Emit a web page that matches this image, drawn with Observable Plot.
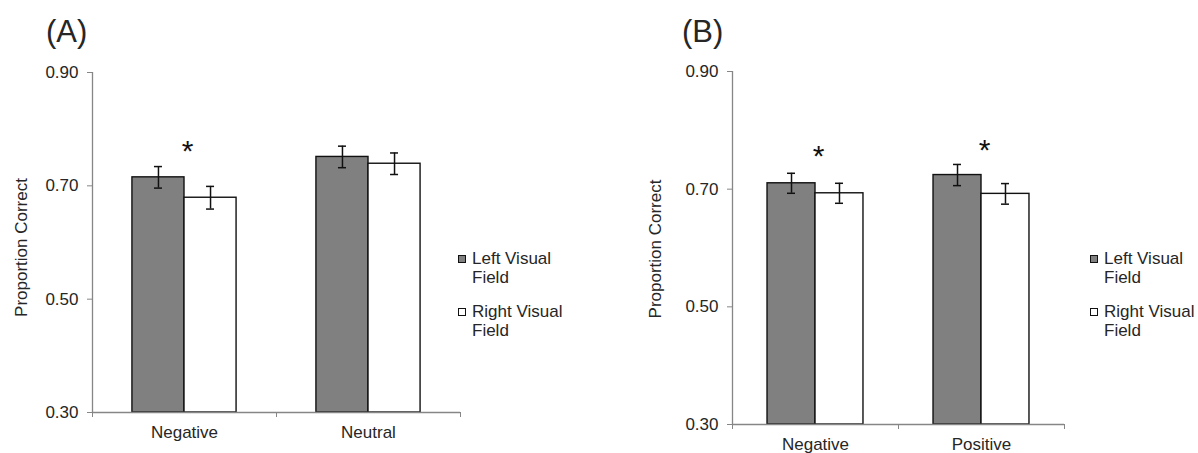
<!DOCTYPE html>
<html>
<head>
<meta charset="utf-8">
<script src="https://cdn.jsdelivr.net/npm/d3@7"></script>
<script src="https://cdn.jsdelivr.net/npm/@observablehq/plot@0.6"></script>
<style>
  html, body { margin: 0; padding: 0; background: #fff; }
  #root { position: relative; width: 1198px; height: 453px; font-family: "Liberation Sans", Arial, sans-serif; color: #262626; overflow: hidden; }
  .panel { position: absolute; top: 0; }
  .title { position: absolute; font-size: 31px; line-height: 31px; }
  .legend { position: absolute; font-size: 17px; line-height: 19px; }
  .item { position: relative; padding-left: 14px; }
  .sw { position: absolute; left: 0; top: 6px; width: 6px; height: 6px; border: 1px solid #111; }
</style>
</head>
<body>
<div id="root"></div>
<script>
// ---- data ----
const seriesNames = ["Left Visual Field", "Right Visual Field"];
const yTicks = [0.30, 0.50, 0.70, 0.90];

const catsA = ["Negative", "Neutral"];
const leftA = [0.715, 0.751];
const rightA = [0.679, 0.739];
const leftErrA = [0.019, 0.019];
const rightErrA = [0.020, 0.019];
const starsA = [0.770, null];

const catsB = ["Negative", "Positive"];
const leftB = [0.710, 0.724];
const rightB = [0.693, 0.692];
const leftErrB = [0.017, 0.018];
const rightErrB = [0.017, 0.0175];
const starsB = [0.765, 0.775];

// ---- styles ----
const gray = "#868686";
const textColor = "#262626";
const fills = ["#808080", "#ffffff"];

function makePanel(o) {
  const {cats, left, right, leftErr, rightErr, stars, width, ml, mr, mt, mb, barFrac, yLabelDx, yLabelDy} = o;
  const n = cats.length;
  const unitPx = (width - ml - mr) / n;
  const cap = 4 / unitPx;
  const rows = cats.flatMap((c, i) => [
    {cat: c, i, s: 0, v: left[i], e: leftErr[i]},
    {cat: c, i, s: 1, v: right[i], e: rightErr[i]}
  ]);
  const x1 = d => d.i + 0.5 - barFrac + d.s * barFrac;
  const xc = d => d.i + 0.5 + (d.s - 0.5) * barFrac;
  const starRows = cats.map((c, i) => ({i, y: stars[i]})).filter(d => d.y != null);
  return Plot.plot({
    width, height: 453,
    marginLeft: ml, marginRight: mr, marginTop: mt, marginBottom: mb,
    style: {fontFamily: '"Liberation Sans", Arial, sans-serif', fontSize: "17px", color: textColor, background: "transparent", overflow: "visible"},
    x: {domain: [0, n]},
    y: {domain: [yTicks[0], yTicks[yTicks.length - 1]]},
    marks: [
      Plot.rectY(rows, {x1, x2: d => x1(d) + barFrac, y1: () => yTicks[0], y2: "v", fill: d => fills[d.s], stroke: "#111", strokeWidth: 1.4}),
      Plot.ruleX(rows, {x: xc, y1: d => d.v - d.e, y2: d => d.v + d.e, stroke: "#111", strokeWidth: 1.5}),
      Plot.ruleY(rows, {x1: d => xc(d) - cap, x2: d => xc(d) + cap, y: d => d.v + d.e, stroke: "#111", strokeWidth: 1.5}),
      Plot.ruleY(rows, {x1: d => xc(d) - cap, x2: d => xc(d) + cap, y: d => d.v - d.e, stroke: "#111", strokeWidth: 1.5}),
      Plot.ruleX([0], {y1: yTicks[0], y2: yTicks[yTicks.length - 1], stroke: gray, strokeWidth: 1.3}),
      Plot.ruleY([yTicks[0]], {x1: 0, x2: n, stroke: gray, strokeWidth: 1.3}),
      Plot.axisY({ticks: yTicks, tickSize: 5, tickPadding: 9, tickFormat: ".2f", stroke: gray, fill: textColor, label: null}),
      Plot.axisX({ticks: d3.range(n + 1), tickSize: 5, tickFormat: () => "", stroke: gray, label: null}),
      Plot.axisX({ticks: cats.map((c, i) => i + 0.5), tickSize: 0, tickPadding: 13, tickFormat: d => cats[Math.floor(d)], fill: textColor, label: null}),
      Plot.text(starRows, {x: d => d.i + 0.5, y: "y", text: () => "*", dx: 3, dy: 5, fontSize: 30, fill: "#111"}),
      Plot.text(["Proportion Correct"], {frameAnchor: "left", textAnchor: "middle", rotate: -90, dx: yLabelDx, dy: yLabelDy, fontSize: 17, fill: textColor})
    ]
  });
}

const root = document.getElementById("root");

function addPanel(left, title, titleLeft, plot, legLeft) {
  const p = document.createElement("div");
  p.className = "panel";
  p.style.left = left + "px";
  p.appendChild(plot);
  root.appendChild(p);
  const t = document.createElement("div");
  t.className = "title";
  t.style.left = titleLeft + "px";
  t.style.top = "16px";
  t.textContent = title;
  root.appendChild(t);
  const tops = [249, 302];
  seriesNames.forEach((name, k) => {
    const lg = document.createElement("div");
    lg.className = "legend";
    lg.style.left = legLeft + "px";
    lg.style.top = tops[k] + "px";
    const words = name.split(" ");
    lg.innerHTML = `<div class="item"><span class="sw" style="background:${fills[k]}"></span>${words.slice(0, 2).join(" ")}<br>${words.slice(2).join(" ")}</div>`;
    root.appendChild(lg);
  });
}

const plotA = makePanel({cats: catsA, left: leftA, right: rightA, leftErr: leftErrA, rightErr: rightErrA, stars: starsA,
  width: 600, ml: 92, mr: 140, mt: 72, mb: 41, barFrac: 0.283, yLabelDx: -71, yLabelDy: 5});
const plotB = makePanel({cats: catsB, left: leftB, right: rightB, leftErr: leftErrB, rightErr: rightErrB, stars: starsB,
  width: 598, ml: 132, mr: 134, mt: 71, mb: 29, barFrac: 0.289, yLabelDx: -77, yLabelDy: 1});

addPanel(0, "(A)", 46, plotA, 458);
addPanel(600, "(B)", 682, plotB, 1090);
</script>
</body>
</html>
